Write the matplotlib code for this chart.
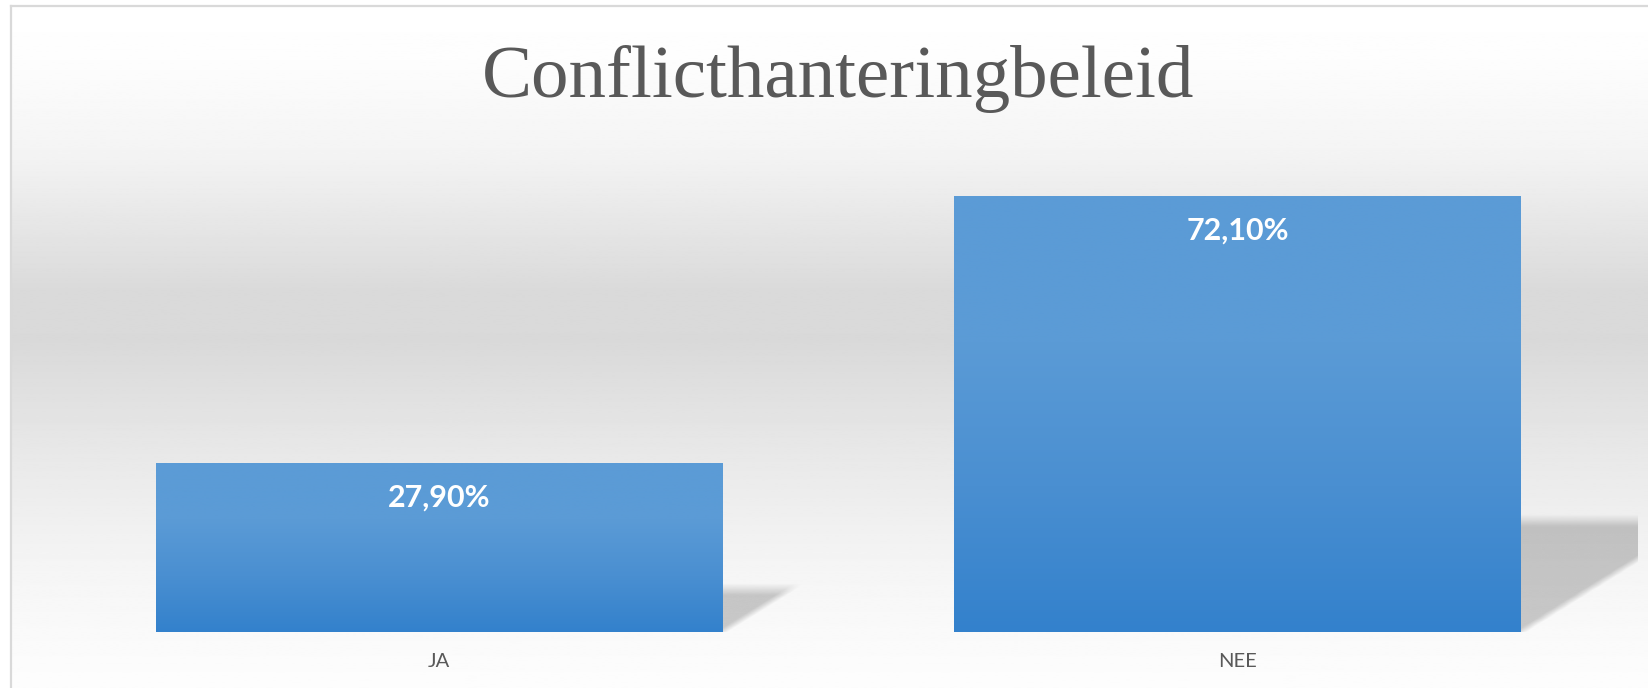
import numpy as np
import matplotlib
matplotlib.use('Agg')
import matplotlib.pyplot as plt
from matplotlib.colors import LinearSegmentedColormap
from matplotlib.lines import Line2D

# data
categories = ['JA', 'NEE']
values = [27.9, 72.1]
title = 'Conflicthanteringbeleid'

W, H, DPI = 1648, 688, 100
fig = plt.figure(figsize=(W / DPI, H / DPI), dpi=DPI)
fig.patch.set_facecolor('white')

# background gradient of the chart area (pixel coords)
bg = fig.add_axes([0, 0, 1, 1], zorder=-5)
bg.set_xlim(0, W)
bg.set_ylim(H, 0)
bg.axis('off')
stops_y = [6, 60, 150, 290, 340, 460, 570, 640, 688]
stops_g = [255, 253, 244, 218, 217, 233, 245, 250, 253]
yy = np.linspace(6, H, 400)
g = np.interp(yy, stops_y, stops_g) / 255.0
bg_img = np.repeat(g[:, None], 2, axis=1)
bg.imshow(bg_img, cmap='gray', vmin=0, vmax=1, extent=(11, W, H, 6), aspect='auto')
# frame lines (left and top only visible)
fig.add_artist(Line2D([11 / W, 11 / W], [0, 1 - 6 / H], color='#d9d9d9', lw=1.6))
fig.add_artist(Line2D([11 / W, 1], [1 - 6 / H, 1 - 6 / H], color='#d9d9d9', lw=1.6))

# main axes
ax_left, ax_w = 39.5 / W, (1637 - 39.5) / W
ax_bottom = (H - 631.7) / H
ymax = 80
px_y = 6.04
ax_h = ymax * px_y / H
ax = fig.add_axes([ax_left, ax_bottom, ax_w, ax_h])
ax.set_facecolor('none')
for s in ax.spines.values():
    s.set_visible(False)

x = np.arange(len(categories))
bar_w = 0.709
px_x = ax_w * W / 2.0

grad = LinearSegmentedColormap.from_list('bar', ['#3381cc', '#4a8fd1', '#5b9bd6', '#5b9bd6'])

for xi, v in zip(x, values):
    xl, xr = xi - bar_w / 2, xi + bar_w / 2
    # soft perspective shadow behind the bar
    h_px = v * px_y
    sh = 0.255 * h_px
    k = 1.6
    blur = 12.0
    sw = k * sh + 40
    shh = sh + 20
    gx = np.linspace(0, sw, 200)
    gy = np.linspace(0, shh, 120)
    GX, GY = np.meshgrid(gx, gy)
    top = np.clip((sh - GY) / blur + 0.5, 0, 1)
    diag = np.clip((k * GY - GX) / blur + 0.5, 0, 1)
    alpha = 0.2 * top * diag
    rgba = np.zeros(GX.shape + (4,))
    rgba[..., 3] = alpha
    ax.imshow(rgba, origin='lower', aspect='auto', zorder=1,
              extent=(xr, xr + sw / px_x, 0, shh / px_y))
    # bar with vertical gradient
    ramp = np.linspace(0, 1, 256)[:, None]
    ax.imshow(ramp, cmap=grad, origin='lower', aspect='auto', zorder=2,
              extent=(xl, xr, 0, v))
    ax.annotate(f'{v:.2f}'.replace('.', ',') + '%', xy=(xi, v), xytext=(0, -25),
                textcoords='offset points', ha='center', va='center',
                color='white', fontsize=22, fontweight='bold', family='Lato', zorder=3)

ax.set_xlim(-0.5, 1.5)
ax.set_ylim(0, ymax)
ax.set_xticks(x)
ax.set_xticklabels(categories, fontsize=14.5, color='#595959', family='Lato')
ax.tick_params(axis='x', length=0, pad=15)
ax.set_yticks([])

fig.text(838 / W, 1 - 79 / H, title, ha='center', va='center', fontsize=54,
         family='Liberation Serif', color='#595959')

fig.savefig('out.png', dpi=DPI)
